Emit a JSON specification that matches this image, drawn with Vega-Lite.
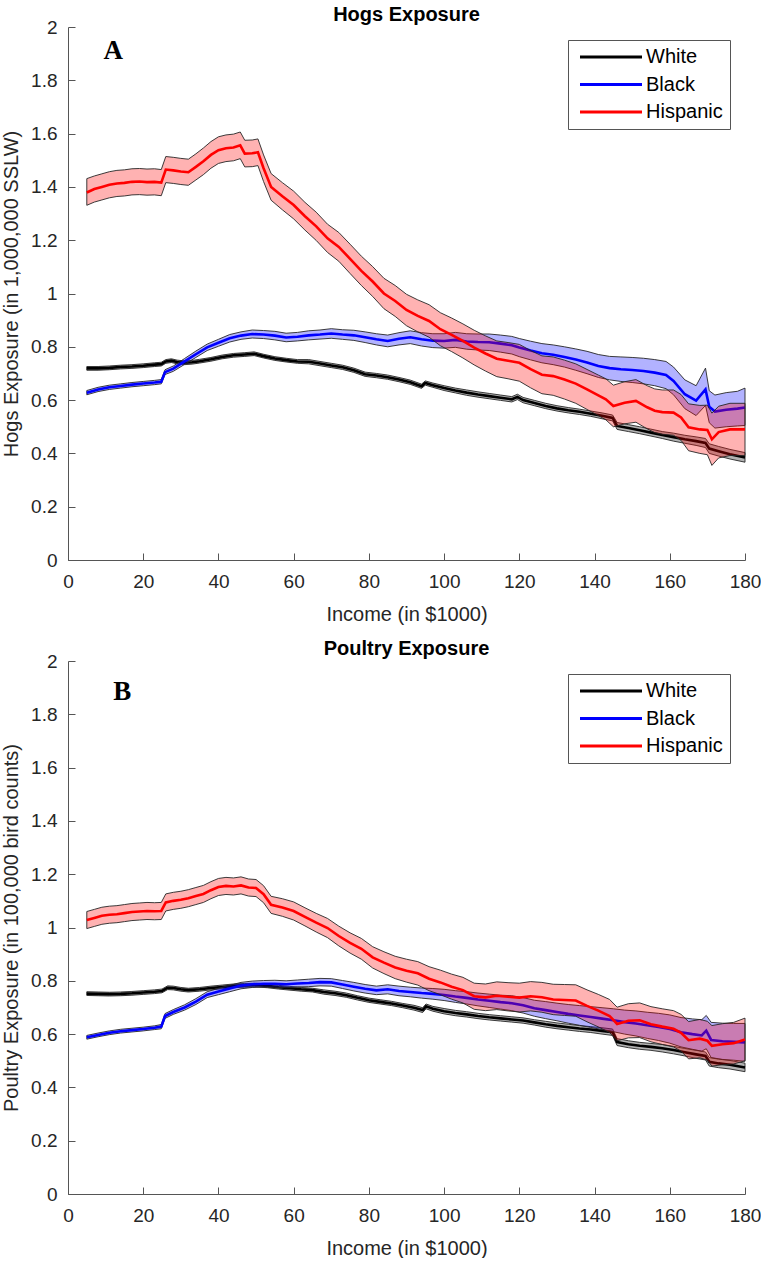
{
  "$schema": "https://vega.github.io/schema/vega-lite/v6.json",
  "padding": {"left": 1, "top": 5, "right": 0, "bottom": 0},
  "background": "white",
  "spacing": 15,
  "config": {
    "font": "Liberation Sans",
    "view": {"stroke": null},
    "axis": {
      "grid": false,
      "domainColor": "#555555",
      "domainWidth": 1,
      "tickColor": "#555555",
      "tickSize": -7,
      "labelFont": "Liberation Sans",
      "labelFontSize": 19,
      "labelColor": "#262626",
      "labelFlush": false,
      "titleFont": "Liberation Sans",
      "titleFontSize": 20,
      "titleFontWeight": "normal",
      "titleColor": "#262626"
    },
    "axisX": {"labelPadding": 19, "titlePadding": 13},
    "axisY": {"labelPadding": 18, "titlePadding": 9},
    "title": {
      "font": "Liberation Sans",
      "fontSize": 20,
      "fontWeight": "bold",
      "color": "#000000",
      "anchor": "middle",
      "baseline": "alphabetic",
      "offset": -7
    },
    "legend": {
      "orient": "none",
      "legendX": 500,
      "legendY": 13,
      "title": null,
      "symbolType": "M-1,0H11.4",
      "symbolSize": 100,
      "symbolStrokeWidth": 3,
      "labelFont": "Liberation Sans",
      "labelFontSize": 20,
      "labelColor": "#000000",
      "labelOffset": 51,
      "rowPadding": 7.5,
      "padding": 7,
      "strokeColor": "#555555",
      "fillColor": "#ffffff"
    }
  },
  "resolve": {"scale": {"color": "independent"}, "legend": {"color": "independent"}},
  "datasets": {
    "hogs": [
      {"g":"White","x":5,"m":0.719,"lo":0.712,"hi":0.726},
      {"g":"White","x":8,"m":0.719,"lo":0.712,"hi":0.726},
      {"g":"White","x":11,"m":0.721,"lo":0.714,"hi":0.728},
      {"g":"White","x":14,"m":0.724,"lo":0.717,"hi":0.731},
      {"g":"White","x":17,"m":0.726,"lo":0.719,"hi":0.733},
      {"g":"White","x":20,"m":0.729,"lo":0.722,"hi":0.736},
      {"g":"White","x":23,"m":0.733,"lo":0.726,"hi":0.740},
      {"g":"White","x":24.8,"m":0.735,"lo":0.728,"hi":0.742},
      {"g":"White","x":26,"m":0.745,"lo":0.738,"hi":0.752},
      {"g":"White","x":27.5,"m":0.748,"lo":0.741,"hi":0.755},
      {"g":"White","x":29,"m":0.743,"lo":0.736,"hi":0.750},
      {"g":"White","x":31,"m":0.740,"lo":0.733,"hi":0.747},
      {"g":"White","x":33,"m":0.742,"lo":0.735,"hi":0.749},
      {"g":"White","x":35,"m":0.746,"lo":0.739,"hi":0.753},
      {"g":"White","x":38,"m":0.753,"lo":0.746,"hi":0.760},
      {"g":"White","x":41,"m":0.762,"lo":0.755,"hi":0.769},
      {"g":"White","x":44,"m":0.768,"lo":0.761,"hi":0.775},
      {"g":"White","x":47,"m":0.771,"lo":0.764,"hi":0.778},
      {"g":"White","x":49.5,"m":0.774,"lo":0.767,"hi":0.781},
      {"g":"White","x":52,"m":0.765,"lo":0.758,"hi":0.772},
      {"g":"White","x":55,"m":0.756,"lo":0.749,"hi":0.763},
      {"g":"White","x":58,"m":0.750,"lo":0.743,"hi":0.757},
      {"g":"White","x":61,"m":0.745,"lo":0.738,"hi":0.752},
      {"g":"White","x":64,"m":0.744,"lo":0.736,"hi":0.752},
      {"g":"White","x":67,"m":0.737,"lo":0.729,"hi":0.745},
      {"g":"White","x":70,"m":0.730,"lo":0.722,"hi":0.738},
      {"g":"White","x":73,"m":0.723,"lo":0.715,"hi":0.731},
      {"g":"White","x":76,"m":0.712,"lo":0.704,"hi":0.720},
      {"g":"White","x":79,"m":0.697,"lo":0.689,"hi":0.705},
      {"g":"White","x":82,"m":0.692,"lo":0.684,"hi":0.700},
      {"g":"White","x":85,"m":0.686,"lo":0.678,"hi":0.694},
      {"g":"White","x":88,"m":0.677,"lo":0.669,"hi":0.685},
      {"g":"White","x":91,"m":0.667,"lo":0.659,"hi":0.675},
      {"g":"White","x":94,"m":0.652,"lo":0.644,"hi":0.660},
      {"g":"White","x":95,"m":0.664,"lo":0.656,"hi":0.672},
      {"g":"White","x":97,"m":0.656,"lo":0.648,"hi":0.664},
      {"g":"White","x":100,"m":0.645,"lo":0.636,"hi":0.654},
      {"g":"White","x":103,"m":0.636,"lo":0.627,"hi":0.645},
      {"g":"White","x":106,"m":0.628,"lo":0.618,"hi":0.638},
      {"g":"White","x":109,"m":0.621,"lo":0.611,"hi":0.631},
      {"g":"White","x":112,"m":0.615,"lo":0.605,"hi":0.625},
      {"g":"White","x":115,"m":0.609,"lo":0.599,"hi":0.619},
      {"g":"White","x":118,"m":0.603,"lo":0.593,"hi":0.613},
      {"g":"White","x":119.5,"m":0.612,"lo":0.602,"hi":0.622},
      {"g":"White","x":121,"m":0.600,"lo":0.590,"hi":0.610},
      {"g":"White","x":124,"m":0.589,"lo":0.579,"hi":0.599},
      {"g":"White","x":127,"m":0.578,"lo":0.568,"hi":0.588},
      {"g":"White","x":130,"m":0.569,"lo":0.559,"hi":0.579},
      {"g":"White","x":133,"m":0.562,"lo":0.552,"hi":0.572},
      {"g":"White","x":136,"m":0.556,"lo":0.546,"hi":0.566},
      {"g":"White","x":139,"m":0.549,"lo":0.539,"hi":0.559},
      {"g":"White","x":142,"m":0.541,"lo":0.530,"hi":0.552},
      {"g":"White","x":144.8,"m":0.533,"lo":0.522,"hi":0.544},
      {"g":"White","x":146,"m":0.503,"lo":0.490,"hi":0.516},
      {"g":"White","x":149,"m":0.495,"lo":0.482,"hi":0.508},
      {"g":"White","x":152,"m":0.487,"lo":0.474,"hi":0.500},
      {"g":"White","x":155,"m":0.478,"lo":0.465,"hi":0.491},
      {"g":"White","x":158,"m":0.469,"lo":0.456,"hi":0.482},
      {"g":"White","x":161,"m":0.461,"lo":0.446,"hi":0.476},
      {"g":"White","x":164,"m":0.453,"lo":0.438,"hi":0.468},
      {"g":"White","x":167,"m":0.446,"lo":0.430,"hi":0.462},
      {"g":"White","x":169.5,"m":0.439,"lo":0.422,"hi":0.456},
      {"g":"White","x":170.5,"m":0.418,"lo":0.400,"hi":0.436},
      {"g":"White","x":173,"m":0.408,"lo":0.390,"hi":0.426},
      {"g":"White","x":176,"m":0.397,"lo":0.379,"hi":0.415},
      {"g":"White","x":180,"m":0.385,"lo":0.367,"hi":0.403},

      {"g":"Black","x":5,"m":0.628,"lo":0.620,"hi":0.636},
      {"g":"Black","x":8,"m":0.640,"lo":0.632,"hi":0.648},
      {"g":"Black","x":11,"m":0.648,"lo":0.640,"hi":0.656},
      {"g":"Black","x":14,"m":0.653,"lo":0.645,"hi":0.661},
      {"g":"Black","x":17,"m":0.658,"lo":0.650,"hi":0.666},
      {"g":"Black","x":20,"m":0.662,"lo":0.654,"hi":0.670},
      {"g":"Black","x":23,"m":0.666,"lo":0.658,"hi":0.674},
      {"g":"Black","x":24.8,"m":0.669,"lo":0.661,"hi":0.677},
      {"g":"Black","x":25.8,"m":0.705,"lo":0.696,"hi":0.714},
      {"g":"Black","x":28,"m":0.718,"lo":0.708,"hi":0.728},
      {"g":"Black","x":31,"m":0.745,"lo":0.734,"hi":0.756},
      {"g":"Black","x":34,"m":0.772,"lo":0.760,"hi":0.784},
      {"g":"Black","x":37,"m":0.798,"lo":0.786,"hi":0.810},
      {"g":"Black","x":40,"m":0.815,"lo":0.802,"hi":0.828},
      {"g":"Black","x":43,"m":0.832,"lo":0.818,"hi":0.846},
      {"g":"Black","x":46,"m":0.842,"lo":0.828,"hi":0.856},
      {"g":"Black","x":49,"m":0.848,"lo":0.833,"hi":0.863},
      {"g":"Black","x":52,"m":0.846,"lo":0.831,"hi":0.861},
      {"g":"Black","x":55,"m":0.842,"lo":0.826,"hi":0.858},
      {"g":"Black","x":58,"m":0.835,"lo":0.819,"hi":0.851},
      {"g":"Black","x":61,"m":0.838,"lo":0.822,"hi":0.854},
      {"g":"Black","x":64,"m":0.843,"lo":0.826,"hi":0.860},
      {"g":"Black","x":67,"m":0.846,"lo":0.829,"hi":0.863},
      {"g":"Black","x":70,"m":0.850,"lo":0.832,"hi":0.868},
      {"g":"Black","x":73,"m":0.846,"lo":0.828,"hi":0.864},
      {"g":"Black","x":76,"m":0.843,"lo":0.824,"hi":0.862},
      {"g":"Black","x":79,"m":0.836,"lo":0.816,"hi":0.856},
      {"g":"Black","x":82,"m":0.828,"lo":0.807,"hi":0.849},
      {"g":"Black","x":85,"m":0.822,"lo":0.800,"hi":0.844},
      {"g":"Black","x":88,"m":0.830,"lo":0.807,"hi":0.853},
      {"g":"Black","x":91,"m":0.836,"lo":0.812,"hi":0.860},
      {"g":"Black","x":94,"m":0.828,"lo":0.803,"hi":0.853},
      {"g":"Black","x":97,"m":0.823,"lo":0.797,"hi":0.849},
      {"g":"Black","x":100,"m":0.822,"lo":0.795,"hi":0.849},
      {"g":"Black","x":103,"m":0.826,"lo":0.798,"hi":0.854},
      {"g":"Black","x":106,"m":0.820,"lo":0.791,"hi":0.849},
      {"g":"Black","x":109,"m":0.818,"lo":0.788,"hi":0.848},
      {"g":"Black","x":112,"m":0.817,"lo":0.786,"hi":0.848},
      {"g":"Black","x":115,"m":0.812,"lo":0.780,"hi":0.844},
      {"g":"Black","x":118,"m":0.806,"lo":0.773,"hi":0.839},
      {"g":"Black","x":120,"m":0.797,"lo":0.763,"hi":0.831},
      {"g":"Black","x":123,"m":0.786,"lo":0.751,"hi":0.821},
      {"g":"Black","x":126,"m":0.776,"lo":0.740,"hi":0.812},
      {"g":"Black","x":129,"m":0.770,"lo":0.733,"hi":0.807},
      {"g":"Black","x":132,"m":0.762,"lo":0.724,"hi":0.800},
      {"g":"Black","x":135,"m":0.752,"lo":0.712,"hi":0.792},
      {"g":"Black","x":138,"m":0.741,"lo":0.699,"hi":0.783},
      {"g":"Black","x":141,"m":0.728,"lo":0.685,"hi":0.771},
      {"g":"Black","x":144,"m":0.720,"lo":0.676,"hi":0.764},
      {"g":"Black","x":147,"m":0.716,"lo":0.670,"hi":0.762},
      {"g":"Black","x":150,"m":0.713,"lo":0.666,"hi":0.760},
      {"g":"Black","x":153,"m":0.709,"lo":0.661,"hi":0.757},
      {"g":"Black","x":156,"m":0.703,"lo":0.654,"hi":0.752},
      {"g":"Black","x":159,"m":0.694,"lo":0.643,"hi":0.745},
      {"g":"Black","x":161,"m":0.672,"lo":0.620,"hi":0.724},
      {"g":"Black","x":164,"m":0.622,"lo":0.568,"hi":0.676},
      {"g":"Black","x":167,"m":0.598,"lo":0.542,"hi":0.654},
      {"g":"Black","x":169.5,"m":0.640,"lo":0.580,"hi":0.720},
      {"g":"Black","x":170.5,"m":0.575,"lo":0.515,"hi":0.635},
      {"g":"Black","x":172,"m":0.557,"lo":0.495,"hi":0.619},
      {"g":"Black","x":175,"m":0.564,"lo":0.500,"hi":0.628},
      {"g":"Black","x":178,"m":0.568,"lo":0.503,"hi":0.633},
      {"g":"Black","x":180,"m":0.572,"lo":0.505,"hi":0.645},

      {"g":"Hispanic","x":5,"m":1.379,"lo":1.331,"hi":1.431},
      {"g":"Hispanic","x":7,"m":1.392,"lo":1.343,"hi":1.441},
      {"g":"Hispanic","x":9,"m":1.400,"lo":1.351,"hi":1.449},
      {"g":"Hispanic","x":11,"m":1.408,"lo":1.359,"hi":1.457},
      {"g":"Hispanic","x":13,"m":1.413,"lo":1.364,"hi":1.462},
      {"g":"Hispanic","x":15,"m":1.415,"lo":1.366,"hi":1.464},
      {"g":"Hispanic","x":17,"m":1.419,"lo":1.370,"hi":1.468},
      {"g":"Hispanic","x":19,"m":1.420,"lo":1.371,"hi":1.469},
      {"g":"Hispanic","x":21,"m":1.418,"lo":1.369,"hi":1.467},
      {"g":"Hispanic","x":23,"m":1.419,"lo":1.370,"hi":1.468},
      {"g":"Hispanic","x":24.8,"m":1.416,"lo":1.367,"hi":1.465},
      {"g":"Hispanic","x":26,"m":1.465,"lo":1.416,"hi":1.514},
      {"g":"Hispanic","x":28,"m":1.462,"lo":1.413,"hi":1.511},
      {"g":"Hispanic","x":30,"m":1.458,"lo":1.409,"hi":1.507},
      {"g":"Hispanic","x":32,"m":1.455,"lo":1.406,"hi":1.504},
      {"g":"Hispanic","x":34,"m":1.475,"lo":1.426,"hi":1.524},
      {"g":"Hispanic","x":36,"m":1.496,"lo":1.446,"hi":1.546},
      {"g":"Hispanic","x":38,"m":1.520,"lo":1.470,"hi":1.570},
      {"g":"Hispanic","x":40,"m":1.538,"lo":1.488,"hi":1.588},
      {"g":"Hispanic","x":42,"m":1.545,"lo":1.495,"hi":1.595},
      {"g":"Hispanic","x":44,"m":1.548,"lo":1.498,"hi":1.598},
      {"g":"Hispanic","x":45.8,"m":1.556,"lo":1.506,"hi":1.606},
      {"g":"Hispanic","x":47,"m":1.525,"lo":1.475,"hi":1.575},
      {"g":"Hispanic","x":49,"m":1.526,"lo":1.476,"hi":1.576},
      {"g":"Hispanic","x":50.5,"m":1.530,"lo":1.480,"hi":1.580},
      {"g":"Hispanic","x":52,"m":1.470,"lo":1.420,"hi":1.520},
      {"g":"Hispanic","x":54,"m":1.400,"lo":1.350,"hi":1.450},
      {"g":"Hispanic","x":57,"m":1.365,"lo":1.314,"hi":1.416},
      {"g":"Hispanic","x":60,"m":1.332,"lo":1.280,"hi":1.384},
      {"g":"Hispanic","x":63,"m":1.290,"lo":1.238,"hi":1.342},
      {"g":"Hispanic","x":66,"m":1.252,"lo":1.199,"hi":1.305},
      {"g":"Hispanic","x":69,"m":1.207,"lo":1.154,"hi":1.260},
      {"g":"Hispanic","x":72,"m":1.175,"lo":1.121,"hi":1.229},
      {"g":"Hispanic","x":75,"m":1.130,"lo":1.075,"hi":1.185},
      {"g":"Hispanic","x":78,"m":1.085,"lo":1.030,"hi":1.140},
      {"g":"Hispanic","x":81,"m":1.045,"lo":0.989,"hi":1.101},
      {"g":"Hispanic","x":84,"m":1.000,"lo":0.943,"hi":1.057},
      {"g":"Hispanic","x":87,"m":0.972,"lo":0.914,"hi":1.030},
      {"g":"Hispanic","x":90,"m":0.938,"lo":0.879,"hi":0.997},
      {"g":"Hispanic","x":93,"m":0.916,"lo":0.856,"hi":0.976},
      {"g":"Hispanic","x":96,"m":0.897,"lo":0.836,"hi":0.958},
      {"g":"Hispanic","x":99,"m":0.866,"lo":0.804,"hi":0.928},
      {"g":"Hispanic","x":102,"m":0.845,"lo":0.782,"hi":0.908},
      {"g":"Hispanic","x":105,"m":0.822,"lo":0.758,"hi":0.886},
      {"g":"Hispanic","x":108,"m":0.797,"lo":0.732,"hi":0.862},
      {"g":"Hispanic","x":111,"m":0.775,"lo":0.709,"hi":0.841},
      {"g":"Hispanic","x":114,"m":0.755,"lo":0.688,"hi":0.822},
      {"g":"Hispanic","x":117,"m":0.748,"lo":0.680,"hi":0.816},
      {"g":"Hispanic","x":120,"m":0.740,"lo":0.671,"hi":0.809},
      {"g":"Hispanic","x":123,"m":0.716,"lo":0.646,"hi":0.786},
      {"g":"Hispanic","x":126,"m":0.695,"lo":0.624,"hi":0.766},
      {"g":"Hispanic","x":129,"m":0.690,"lo":0.618,"hi":0.762},
      {"g":"Hispanic","x":132,"m":0.677,"lo":0.604,"hi":0.750},
      {"g":"Hispanic","x":135,"m":0.662,"lo":0.588,"hi":0.736},
      {"g":"Hispanic","x":138,"m":0.640,"lo":0.565,"hi":0.715},
      {"g":"Hispanic","x":141,"m":0.618,"lo":0.542,"hi":0.694},
      {"g":"Hispanic","x":143,"m":0.603,"lo":0.526,"hi":0.680},
      {"g":"Hispanic","x":145,"m":0.578,"lo":0.500,"hi":0.656},
      {"g":"Hispanic","x":148,"m":0.590,"lo":0.511,"hi":0.669},
      {"g":"Hispanic","x":151,"m":0.597,"lo":0.517,"hi":0.677},
      {"g":"Hispanic","x":154,"m":0.573,"lo":0.492,"hi":0.654},
      {"g":"Hispanic","x":156,"m":0.560,"lo":0.478,"hi":0.642},
      {"g":"Hispanic","x":158,"m":0.555,"lo":0.472,"hi":0.638},
      {"g":"Hispanic","x":161,"m":0.553,"lo":0.468,"hi":0.638},
      {"g":"Hispanic","x":163,"m":0.535,"lo":0.449,"hi":0.621},
      {"g":"Hispanic","x":165,"m":0.498,"lo":0.410,"hi":0.586},
      {"g":"Hispanic","x":168,"m":0.490,"lo":0.400,"hi":0.580},
      {"g":"Hispanic","x":170,"m":0.488,"lo":0.395,"hi":0.581},
      {"g":"Hispanic","x":171.2,"m":0.453,"lo":0.355,"hi":0.551},
      {"g":"Hispanic","x":173,"m":0.480,"lo":0.383,"hi":0.577},
      {"g":"Hispanic","x":176,"m":0.490,"lo":0.392,"hi":0.588},
      {"g":"Hispanic","x":180,"m":0.490,"lo":0.392,"hi":0.588}
    ],
    "poultry": [
      {"g":"White","x":5,"m":0.752,"lo":0.745,"hi":0.759},
      {"g":"White","x":8,"m":0.751,"lo":0.744,"hi":0.758},
      {"g":"White","x":11,"m":0.750,"lo":0.743,"hi":0.757},
      {"g":"White","x":14,"m":0.751,"lo":0.744,"hi":0.758},
      {"g":"White","x":17,"m":0.753,"lo":0.746,"hi":0.760},
      {"g":"White","x":20,"m":0.756,"lo":0.749,"hi":0.763},
      {"g":"White","x":23,"m":0.759,"lo":0.752,"hi":0.766},
      {"g":"White","x":25,"m":0.762,"lo":0.755,"hi":0.769},
      {"g":"White","x":26.5,"m":0.774,"lo":0.767,"hi":0.781},
      {"g":"White","x":28,"m":0.773,"lo":0.766,"hi":0.780},
      {"g":"White","x":30,"m":0.768,"lo":0.761,"hi":0.775},
      {"g":"White","x":32,"m":0.765,"lo":0.758,"hi":0.772},
      {"g":"White","x":35,"m":0.768,"lo":0.761,"hi":0.775},
      {"g":"White","x":38,"m":0.773,"lo":0.766,"hi":0.780},
      {"g":"White","x":41,"m":0.777,"lo":0.770,"hi":0.784},
      {"g":"White","x":44,"m":0.781,"lo":0.774,"hi":0.788},
      {"g":"White","x":47,"m":0.783,"lo":0.776,"hi":0.790},
      {"g":"White","x":50,"m":0.784,"lo":0.777,"hi":0.791},
      {"g":"White","x":53,"m":0.781,"lo":0.774,"hi":0.788},
      {"g":"White","x":56,"m":0.776,"lo":0.769,"hi":0.783},
      {"g":"White","x":59,"m":0.772,"lo":0.765,"hi":0.779},
      {"g":"White","x":62,"m":0.768,"lo":0.761,"hi":0.775},
      {"g":"White","x":65,"m":0.765,"lo":0.758,"hi":0.772},
      {"g":"White","x":68,"m":0.758,"lo":0.750,"hi":0.766},
      {"g":"White","x":71,"m":0.753,"lo":0.745,"hi":0.761},
      {"g":"White","x":74,"m":0.746,"lo":0.738,"hi":0.754},
      {"g":"White","x":77,"m":0.736,"lo":0.728,"hi":0.744},
      {"g":"White","x":80,"m":0.727,"lo":0.719,"hi":0.735},
      {"g":"White","x":83,"m":0.721,"lo":0.713,"hi":0.729},
      {"g":"White","x":86,"m":0.715,"lo":0.707,"hi":0.723},
      {"g":"White","x":89,"m":0.707,"lo":0.699,"hi":0.715},
      {"g":"White","x":92,"m":0.699,"lo":0.690,"hi":0.708},
      {"g":"White","x":94.3,"m":0.690,"lo":0.681,"hi":0.699},
      {"g":"White","x":95.2,"m":0.704,"lo":0.695,"hi":0.713},
      {"g":"White","x":97,"m":0.695,"lo":0.686,"hi":0.704},
      {"g":"White","x":100,"m":0.686,"lo":0.676,"hi":0.696},
      {"g":"White","x":103,"m":0.679,"lo":0.669,"hi":0.689},
      {"g":"White","x":106,"m":0.674,"lo":0.664,"hi":0.684},
      {"g":"White","x":109,"m":0.668,"lo":0.658,"hi":0.678},
      {"g":"White","x":112,"m":0.663,"lo":0.653,"hi":0.673},
      {"g":"White","x":115,"m":0.659,"lo":0.649,"hi":0.669},
      {"g":"White","x":118,"m":0.655,"lo":0.645,"hi":0.665},
      {"g":"White","x":121,"m":0.651,"lo":0.641,"hi":0.661},
      {"g":"White","x":124,"m":0.644,"lo":0.634,"hi":0.654},
      {"g":"White","x":127,"m":0.637,"lo":0.626,"hi":0.648},
      {"g":"White","x":130,"m":0.631,"lo":0.620,"hi":0.642},
      {"g":"White","x":133,"m":0.626,"lo":0.615,"hi":0.637},
      {"g":"White","x":136,"m":0.621,"lo":0.610,"hi":0.632},
      {"g":"White","x":139,"m":0.617,"lo":0.606,"hi":0.628},
      {"g":"White","x":142,"m":0.612,"lo":0.600,"hi":0.624},
      {"g":"White","x":144.8,"m":0.607,"lo":0.595,"hi":0.619},
      {"g":"White","x":146,"m":0.570,"lo":0.557,"hi":0.583},
      {"g":"White","x":149,"m":0.562,"lo":0.549,"hi":0.575},
      {"g":"White","x":152,"m":0.556,"lo":0.543,"hi":0.569},
      {"g":"White","x":155,"m":0.552,"lo":0.539,"hi":0.565},
      {"g":"White","x":158,"m":0.547,"lo":0.533,"hi":0.561},
      {"g":"White","x":161,"m":0.540,"lo":0.526,"hi":0.554},
      {"g":"White","x":164,"m":0.532,"lo":0.518,"hi":0.546},
      {"g":"White","x":167,"m":0.524,"lo":0.509,"hi":0.539},
      {"g":"White","x":169.5,"m":0.518,"lo":0.503,"hi":0.533},
      {"g":"White","x":170.5,"m":0.496,"lo":0.480,"hi":0.512},
      {"g":"White","x":173,"m":0.490,"lo":0.474,"hi":0.506},
      {"g":"White","x":176,"m":0.485,"lo":0.469,"hi":0.501},
      {"g":"White","x":180,"m":0.475,"lo":0.459,"hi":0.491},

      {"g":"Black","x":5,"m":0.588,"lo":0.581,"hi":0.595},
      {"g":"Black","x":8,"m":0.597,"lo":0.590,"hi":0.604},
      {"g":"Black","x":11,"m":0.605,"lo":0.598,"hi":0.612},
      {"g":"Black","x":14,"m":0.611,"lo":0.604,"hi":0.618},
      {"g":"Black","x":17,"m":0.615,"lo":0.608,"hi":0.622},
      {"g":"Black","x":20,"m":0.619,"lo":0.612,"hi":0.626},
      {"g":"Black","x":23,"m":0.624,"lo":0.617,"hi":0.631},
      {"g":"Black","x":24.8,"m":0.628,"lo":0.620,"hi":0.636},
      {"g":"Black","x":25.8,"m":0.668,"lo":0.659,"hi":0.677},
      {"g":"Black","x":28,"m":0.683,"lo":0.674,"hi":0.692},
      {"g":"Black","x":31,"m":0.700,"lo":0.690,"hi":0.710},
      {"g":"Black","x":34,"m":0.722,"lo":0.711,"hi":0.733},
      {"g":"Black","x":37,"m":0.748,"lo":0.737,"hi":0.759},
      {"g":"Black","x":40,"m":0.760,"lo":0.748,"hi":0.772},
      {"g":"Black","x":43,"m":0.771,"lo":0.759,"hi":0.783},
      {"g":"Black","x":46,"m":0.782,"lo":0.770,"hi":0.794},
      {"g":"Black","x":49,"m":0.787,"lo":0.775,"hi":0.799},
      {"g":"Black","x":52,"m":0.789,"lo":0.777,"hi":0.801},
      {"g":"Black","x":55,"m":0.789,"lo":0.776,"hi":0.802},
      {"g":"Black","x":58,"m":0.787,"lo":0.774,"hi":0.800},
      {"g":"Black","x":61,"m":0.790,"lo":0.777,"hi":0.803},
      {"g":"Black","x":64,"m":0.792,"lo":0.778,"hi":0.806},
      {"g":"Black","x":67,"m":0.795,"lo":0.781,"hi":0.809},
      {"g":"Black","x":70,"m":0.794,"lo":0.780,"hi":0.808},
      {"g":"Black","x":73,"m":0.786,"lo":0.771,"hi":0.801},
      {"g":"Black","x":76,"m":0.778,"lo":0.762,"hi":0.794},
      {"g":"Black","x":79,"m":0.770,"lo":0.754,"hi":0.786},
      {"g":"Black","x":82,"m":0.764,"lo":0.748,"hi":0.780},
      {"g":"Black","x":85,"m":0.768,"lo":0.751,"hi":0.785},
      {"g":"Black","x":88,"m":0.762,"lo":0.744,"hi":0.780},
      {"g":"Black","x":91,"m":0.758,"lo":0.740,"hi":0.776},
      {"g":"Black","x":94,"m":0.754,"lo":0.735,"hi":0.773},
      {"g":"Black","x":97,"m":0.751,"lo":0.731,"hi":0.771},
      {"g":"Black","x":100,"m":0.747,"lo":0.726,"hi":0.768},
      {"g":"Black","x":103,"m":0.741,"lo":0.719,"hi":0.763},
      {"g":"Black","x":106,"m":0.736,"lo":0.713,"hi":0.759},
      {"g":"Black","x":109,"m":0.730,"lo":0.706,"hi":0.754},
      {"g":"Black","x":112,"m":0.725,"lo":0.700,"hi":0.750},
      {"g":"Black","x":115,"m":0.720,"lo":0.694,"hi":0.746},
      {"g":"Black","x":118,"m":0.716,"lo":0.688,"hi":0.744},
      {"g":"Black","x":121,"m":0.708,"lo":0.679,"hi":0.737},
      {"g":"Black","x":124,"m":0.697,"lo":0.667,"hi":0.727},
      {"g":"Black","x":127,"m":0.690,"lo":0.658,"hi":0.722},
      {"g":"Black","x":130,"m":0.683,"lo":0.650,"hi":0.716},
      {"g":"Black","x":133,"m":0.676,"lo":0.641,"hi":0.711},
      {"g":"Black","x":136,"m":0.670,"lo":0.633,"hi":0.707},
      {"g":"Black","x":139,"m":0.664,"lo":0.625,"hi":0.703},
      {"g":"Black","x":142,"m":0.658,"lo":0.617,"hi":0.699},
      {"g":"Black","x":145,"m":0.652,"lo":0.609,"hi":0.695},
      {"g":"Black","x":148,"m":0.645,"lo":0.600,"hi":0.690},
      {"g":"Black","x":151,"m":0.640,"lo":0.593,"hi":0.687},
      {"g":"Black","x":154,"m":0.633,"lo":0.584,"hi":0.682},
      {"g":"Black","x":157,"m":0.627,"lo":0.576,"hi":0.678},
      {"g":"Black","x":160,"m":0.619,"lo":0.566,"hi":0.672},
      {"g":"Black","x":163,"m":0.607,"lo":0.552,"hi":0.662},
      {"g":"Black","x":166,"m":0.600,"lo":0.543,"hi":0.657},
      {"g":"Black","x":168.5,"m":0.595,"lo":0.536,"hi":0.654},
      {"g":"Black","x":169.7,"m":0.613,"lo":0.545,"hi":0.670},
      {"g":"Black","x":171,"m":0.578,"lo":0.512,"hi":0.644},
      {"g":"Black","x":174,"m":0.573,"lo":0.505,"hi":0.641},
      {"g":"Black","x":177,"m":0.571,"lo":0.502,"hi":0.640},
      {"g":"Black","x":180,"m":0.569,"lo":0.498,"hi":0.640},

      {"g":"Hispanic","x":5,"m":1.028,"lo":0.996,"hi":1.060},
      {"g":"Hispanic","x":7,"m":1.036,"lo":1.004,"hi":1.068},
      {"g":"Hispanic","x":9,"m":1.044,"lo":1.012,"hi":1.076},
      {"g":"Hispanic","x":11,"m":1.048,"lo":1.016,"hi":1.080},
      {"g":"Hispanic","x":13,"m":1.050,"lo":1.018,"hi":1.082},
      {"g":"Hispanic","x":15,"m":1.054,"lo":1.022,"hi":1.086},
      {"g":"Hispanic","x":17,"m":1.058,"lo":1.026,"hi":1.090},
      {"g":"Hispanic","x":19,"m":1.060,"lo":1.028,"hi":1.092},
      {"g":"Hispanic","x":21,"m":1.062,"lo":1.030,"hi":1.094},
      {"g":"Hispanic","x":23,"m":1.061,"lo":1.029,"hi":1.093},
      {"g":"Hispanic","x":24.8,"m":1.062,"lo":1.030,"hi":1.094},
      {"g":"Hispanic","x":26,"m":1.094,"lo":1.062,"hi":1.126},
      {"g":"Hispanic","x":28,"m":1.100,"lo":1.068,"hi":1.132},
      {"g":"Hispanic","x":30,"m":1.104,"lo":1.072,"hi":1.136},
      {"g":"Hispanic","x":32,"m":1.110,"lo":1.078,"hi":1.142},
      {"g":"Hispanic","x":34,"m":1.118,"lo":1.086,"hi":1.150},
      {"g":"Hispanic","x":36,"m":1.126,"lo":1.094,"hi":1.158},
      {"g":"Hispanic","x":38,"m":1.140,"lo":1.108,"hi":1.172},
      {"g":"Hispanic","x":40,"m":1.152,"lo":1.120,"hi":1.184},
      {"g":"Hispanic","x":42,"m":1.156,"lo":1.124,"hi":1.188},
      {"g":"Hispanic","x":44,"m":1.154,"lo":1.122,"hi":1.186},
      {"g":"Hispanic","x":46,"m":1.158,"lo":1.126,"hi":1.190},
      {"g":"Hispanic","x":48,"m":1.150,"lo":1.118,"hi":1.182},
      {"g":"Hispanic","x":50,"m":1.148,"lo":1.116,"hi":1.180},
      {"g":"Hispanic","x":52,"m":1.125,"lo":1.093,"hi":1.157},
      {"g":"Hispanic","x":54,"m":1.085,"lo":1.053,"hi":1.117},
      {"g":"Hispanic","x":57,"m":1.075,"lo":1.042,"hi":1.108},
      {"g":"Hispanic","x":60,"m":1.062,"lo":1.028,"hi":1.096},
      {"g":"Hispanic","x":63,"m":1.040,"lo":1.006,"hi":1.074},
      {"g":"Hispanic","x":66,"m":1.018,"lo":0.983,"hi":1.053},
      {"g":"Hispanic","x":69,"m":0.998,"lo":0.962,"hi":1.034},
      {"g":"Hispanic","x":72,"m":0.968,"lo":0.931,"hi":1.005},
      {"g":"Hispanic","x":75,"m":0.942,"lo":0.904,"hi":0.980},
      {"g":"Hispanic","x":78,"m":0.920,"lo":0.881,"hi":0.959},
      {"g":"Hispanic","x":81,"m":0.888,"lo":0.848,"hi":0.928},
      {"g":"Hispanic","x":84,"m":0.868,"lo":0.827,"hi":0.909},
      {"g":"Hispanic","x":87,"m":0.850,"lo":0.808,"hi":0.892},
      {"g":"Hispanic","x":90,"m":0.838,"lo":0.795,"hi":0.881},
      {"g":"Hispanic","x":93,"m":0.828,"lo":0.784,"hi":0.872},
      {"g":"Hispanic","x":96,"m":0.808,"lo":0.763,"hi":0.853},
      {"g":"Hispanic","x":99,"m":0.794,"lo":0.748,"hi":0.840},
      {"g":"Hispanic","x":102,"m":0.778,"lo":0.731,"hi":0.825},
      {"g":"Hispanic","x":105,"m":0.765,"lo":0.717,"hi":0.813},
      {"g":"Hispanic","x":108,"m":0.742,"lo":0.693,"hi":0.791},
      {"g":"Hispanic","x":111,"m":0.738,"lo":0.688,"hi":0.788},
      {"g":"Hispanic","x":114,"m":0.744,"lo":0.692,"hi":0.796},
      {"g":"Hispanic","x":117,"m":0.740,"lo":0.687,"hi":0.793},
      {"g":"Hispanic","x":120,"m":0.737,"lo":0.683,"hi":0.791},
      {"g":"Hispanic","x":123,"m":0.742,"lo":0.687,"hi":0.797},
      {"g":"Hispanic","x":126,"m":0.738,"lo":0.682,"hi":0.794},
      {"g":"Hispanic","x":129,"m":0.730,"lo":0.673,"hi":0.787},
      {"g":"Hispanic","x":132,"m":0.728,"lo":0.670,"hi":0.786},
      {"g":"Hispanic","x":135,"m":0.726,"lo":0.667,"hi":0.785},
      {"g":"Hispanic","x":138,"m":0.706,"lo":0.646,"hi":0.766},
      {"g":"Hispanic","x":141,"m":0.688,"lo":0.627,"hi":0.749},
      {"g":"Hispanic","x":144,"m":0.668,"lo":0.606,"hi":0.730},
      {"g":"Hispanic","x":146,"m":0.638,"lo":0.575,"hi":0.701},
      {"g":"Hispanic","x":149,"m":0.650,"lo":0.586,"hi":0.714},
      {"g":"Hispanic","x":152,"m":0.652,"lo":0.587,"hi":0.717},
      {"g":"Hispanic","x":155,"m":0.637,"lo":0.571,"hi":0.703},
      {"g":"Hispanic","x":158,"m":0.628,"lo":0.561,"hi":0.695},
      {"g":"Hispanic","x":161,"m":0.620,"lo":0.552,"hi":0.688},
      {"g":"Hispanic","x":163,"m":0.605,"lo":0.536,"hi":0.674},
      {"g":"Hispanic","x":165,"m":0.577,"lo":0.507,"hi":0.647},
      {"g":"Hispanic","x":168,"m":0.583,"lo":0.511,"hi":0.655},
      {"g":"Hispanic","x":170,"m":0.575,"lo":0.502,"hi":0.648},
      {"g":"Hispanic","x":171.2,"m":0.556,"lo":0.480,"hi":0.632},
      {"g":"Hispanic","x":174,"m":0.562,"lo":0.485,"hi":0.639},
      {"g":"Hispanic","x":177,"m":0.566,"lo":0.488,"hi":0.644},
      {"g":"Hispanic","x":180,"m":0.580,"lo":0.500,"hi":0.660}
    ]
  },
  "vconcat": [
    {
      "width": 677,
      "height": 533,
      "title": {"text": "Hogs Exposure"},
      "data": {"name": "hogs"},
      "encoding": {
        "x": {"field": "x", "type": "quantitative", "scale": {"domain": [0, 180], "nice": false},
              "axis": {"title": "Income (in $1000)", "values": [0,20,40,60,80,100,120,140,160,180]}}
      },
      "layer": [
        {"transform": [{"filter": "datum.g === 'White'"}],
         "mark": {"type": "area", "fill": "#000000", "fillOpacity": 0.3, "stroke": "#262626", "strokeWidth": 0.9},
         "encoding": {"y": {"field": "lo", "type": "quantitative", "scale": {"domain": [0, 2], "nice": false},
                            "axis": {"title": "Hogs Exposure (in 1,000,000 SSLW)", "values": [0,0.2,0.4,0.6,0.8,1,1.2,1.4,1.6,1.8,2], "format": "~g"}},
                      "y2": {"field": "hi"}}},
        {"transform": [{"filter": "datum.g === 'White'"}],
         "mark": {"type": "line", "strokeWidth": 2.6},
         "encoding": {"y": {"field": "m", "type": "quantitative", "scale": {"domain": [0, 2], "nice": false},
                            "axis": {"title": "Hogs Exposure (in 1,000,000 SSLW)", "values": [0,0.2,0.4,0.6,0.8,1,1.2,1.4,1.6,1.8,2], "format": "~g"}},
                      "color": {"field": "g", "type": "nominal", "scale": {"domain": ["White","Black","Hispanic"], "range": ["#000000","#0000ff","#ff0000"]}}}},
        {"transform": [{"filter": "datum.g === 'Black'"}],
         "mark": {"type": "area", "fill": "#0000ff", "fillOpacity": 0.3, "stroke": "#262626", "strokeWidth": 0.9},
         "encoding": {"y": {"field": "lo", "type": "quantitative", "scale": {"domain": [0, 2], "nice": false},
                            "axis": {"title": "Hogs Exposure (in 1,000,000 SSLW)", "values": [0,0.2,0.4,0.6,0.8,1,1.2,1.4,1.6,1.8,2], "format": "~g"}},
                      "y2": {"field": "hi"}}},
        {"transform": [{"filter": "datum.g === 'Black'"}],
         "mark": {"type": "line", "strokeWidth": 2.6},
         "encoding": {"y": {"field": "m", "type": "quantitative", "scale": {"domain": [0, 2], "nice": false},
                            "axis": {"title": "Hogs Exposure (in 1,000,000 SSLW)", "values": [0,0.2,0.4,0.6,0.8,1,1.2,1.4,1.6,1.8,2], "format": "~g"}},
                      "color": {"field": "g", "type": "nominal", "scale": {"domain": ["White","Black","Hispanic"], "range": ["#000000","#0000ff","#ff0000"]}}}},
        {"transform": [{"filter": "datum.g === 'Hispanic'"}],
         "mark": {"type": "area", "fill": "#ff0000", "fillOpacity": 0.3, "stroke": "#262626", "strokeWidth": 0.9},
         "encoding": {"y": {"field": "lo", "type": "quantitative", "scale": {"domain": [0, 2], "nice": false},
                            "axis": {"title": "Hogs Exposure (in 1,000,000 SSLW)", "values": [0,0.2,0.4,0.6,0.8,1,1.2,1.4,1.6,1.8,2], "format": "~g"}},
                      "y2": {"field": "hi"}}},
        {"transform": [{"filter": "datum.g === 'Hispanic'"}],
         "mark": {"type": "line", "strokeWidth": 2.6},
         "encoding": {"y": {"field": "m", "type": "quantitative", "scale": {"domain": [0, 2], "nice": false},
                            "axis": {"title": "Hogs Exposure (in 1,000,000 SSLW)", "values": [0,0.2,0.4,0.6,0.8,1,1.2,1.4,1.6,1.8,2], "format": "~g"}},
                      "color": {"field": "g", "type": "nominal", "scale": {"domain": ["White","Black","Hispanic"], "range": ["#000000","#0000ff","#ff0000"]}}}},
        {"data": {"values": [{"tag": "A", "x": 12, "y": 1.91}]},
         "mark": {"type": "text", "font": "Liberation Serif", "fontWeight": "bold", "fontSize": 27, "color": "#000000", "align": "center", "baseline": "middle"},
         "encoding": {"y": {"field": "y", "type": "quantitative", "scale": {"domain": [0, 2], "nice": false},
                            "axis": {"title": "Hogs Exposure (in 1,000,000 SSLW)", "values": [0,0.2,0.4,0.6,0.8,1,1.2,1.4,1.6,1.8,2], "format": "~g"}},
                      "text": {"field": "tag"}}}
      ]
    },
    {
      "width": 677,
      "height": 533,
      "title": {"text": "Poultry Exposure"},
      "data": {"name": "poultry"},
      "encoding": {
        "x": {"field": "x", "type": "quantitative", "scale": {"domain": [0, 180], "nice": false},
              "axis": {"title": "Income (in $1000)", "values": [0,20,40,60,80,100,120,140,160,180]}}
      },
      "layer": [
        {"transform": [{"filter": "datum.g === 'White'"}],
         "mark": {"type": "area", "fill": "#000000", "fillOpacity": 0.3, "stroke": "#262626", "strokeWidth": 0.9},
         "encoding": {"y": {"field": "lo", "type": "quantitative", "scale": {"domain": [0, 2], "nice": false},
                            "axis": {"title": "Poultry Exposure (in 100,000 bird counts)", "values": [0,0.2,0.4,0.6,0.8,1,1.2,1.4,1.6,1.8,2], "format": "~g"}},
                      "y2": {"field": "hi"}}},
        {"transform": [{"filter": "datum.g === 'White'"}],
         "mark": {"type": "line", "strokeWidth": 2.6},
         "encoding": {"y": {"field": "m", "type": "quantitative", "scale": {"domain": [0, 2], "nice": false},
                            "axis": {"title": "Poultry Exposure (in 100,000 bird counts)", "values": [0,0.2,0.4,0.6,0.8,1,1.2,1.4,1.6,1.8,2], "format": "~g"}},
                      "color": {"field": "g", "type": "nominal", "scale": {"domain": ["White","Black","Hispanic"], "range": ["#000000","#0000ff","#ff0000"]}}}},
        {"transform": [{"filter": "datum.g === 'Black'"}],
         "mark": {"type": "area", "fill": "#0000ff", "fillOpacity": 0.3, "stroke": "#262626", "strokeWidth": 0.9},
         "encoding": {"y": {"field": "lo", "type": "quantitative", "scale": {"domain": [0, 2], "nice": false},
                            "axis": {"title": "Poultry Exposure (in 100,000 bird counts)", "values": [0,0.2,0.4,0.6,0.8,1,1.2,1.4,1.6,1.8,2], "format": "~g"}},
                      "y2": {"field": "hi"}}},
        {"transform": [{"filter": "datum.g === 'Black'"}],
         "mark": {"type": "line", "strokeWidth": 2.6},
         "encoding": {"y": {"field": "m", "type": "quantitative", "scale": {"domain": [0, 2], "nice": false},
                            "axis": {"title": "Poultry Exposure (in 100,000 bird counts)", "values": [0,0.2,0.4,0.6,0.8,1,1.2,1.4,1.6,1.8,2], "format": "~g"}},
                      "color": {"field": "g", "type": "nominal", "scale": {"domain": ["White","Black","Hispanic"], "range": ["#000000","#0000ff","#ff0000"]}}}},
        {"transform": [{"filter": "datum.g === 'Hispanic'"}],
         "mark": {"type": "area", "fill": "#ff0000", "fillOpacity": 0.3, "stroke": "#262626", "strokeWidth": 0.9},
         "encoding": {"y": {"field": "lo", "type": "quantitative", "scale": {"domain": [0, 2], "nice": false},
                            "axis": {"title": "Poultry Exposure (in 100,000 bird counts)", "values": [0,0.2,0.4,0.6,0.8,1,1.2,1.4,1.6,1.8,2], "format": "~g"}},
                      "y2": {"field": "hi"}}},
        {"transform": [{"filter": "datum.g === 'Hispanic'"}],
         "mark": {"type": "line", "strokeWidth": 2.6},
         "encoding": {"y": {"field": "m", "type": "quantitative", "scale": {"domain": [0, 2], "nice": false},
                            "axis": {"title": "Poultry Exposure (in 100,000 bird counts)", "values": [0,0.2,0.4,0.6,0.8,1,1.2,1.4,1.6,1.8,2], "format": "~g"}},
                      "color": {"field": "g", "type": "nominal", "scale": {"domain": ["White","Black","Hispanic"], "range": ["#000000","#0000ff","#ff0000"]}}}},
        {"data": {"values": [{"tag": "B", "x": 14.4, "y": 1.885}]},
         "mark": {"type": "text", "font": "Liberation Serif", "fontWeight": "bold", "fontSize": 27, "color": "#000000", "align": "center", "baseline": "middle"},
         "encoding": {"y": {"field": "y", "type": "quantitative", "scale": {"domain": [0, 2], "nice": false},
                            "axis": {"title": "Poultry Exposure (in 100,000 bird counts)", "values": [0,0.2,0.4,0.6,0.8,1,1.2,1.4,1.6,1.8,2], "format": "~g"}},
                      "text": {"field": "tag"}}}
      ]
    }
  ]
}
